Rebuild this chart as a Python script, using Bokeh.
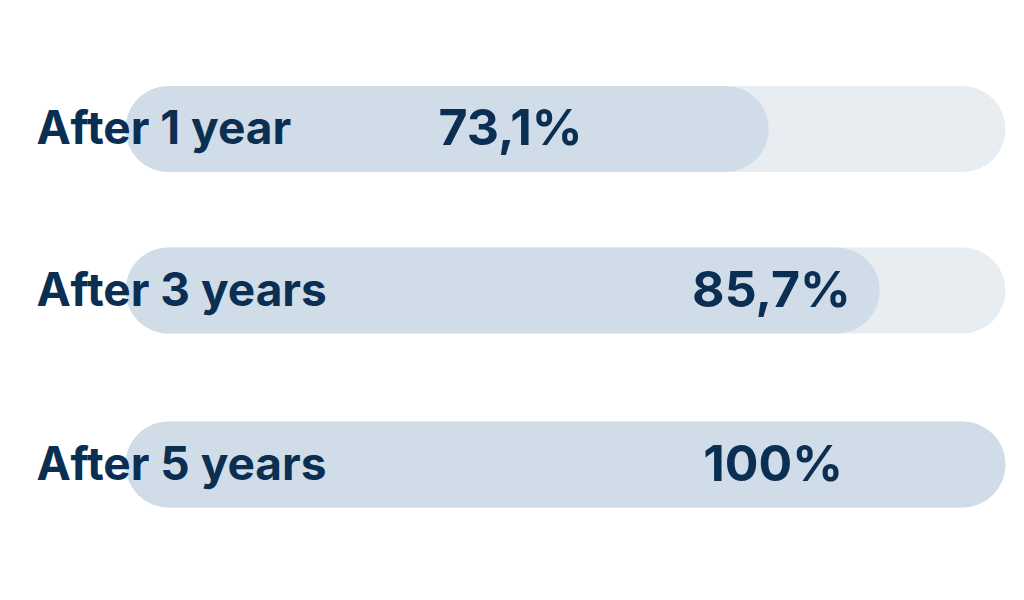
from bokeh.plotting import figure
from bokeh.models import Range1d, ColumnDataSource
from bokeh.core.properties import value
from bokeh.embed import file_html
from bokeh.resources import INLINE

categories = ["After 1 year", "After 3 years", "After 5 years"]
values = [73.1, 85.7, 100.0]
value_labels = ["73,1%", "85,7%", "100%"]
track_max = [100.0, 100.0, 100.0]

# layout (styles / positions, not data)
row_y = [128.5, 290.0, 464.0]          # pixel rows (y axis runs top->bottom)
label_center_x = [43.75, 73.4, 73.6]   # centre of value labels, in % units
bar_h = 86
px_per_pct = 8.8
x0_px = 125

W, H = 1008, 584
p = figure(width=W, height=H, output_backend="svg", toolbar_location=None,
           x_range=Range1d(-x0_px / px_per_pct, (W - x0_px) / px_per_pct),
           y_range=Range1d(H, 0), min_border=0)
p.axis.visible = False
p.grid.visible = False
p.outline_line_color = None
p.background_fill_color = "white"
p.border_fill_color = "white"

src = ColumnDataSource(dict(y=row_y, v=values, m=track_max, cat=categories,
                            lab=value_labels, lx=label_center_x))

text_color = "#0b2e53"

p.hbar(y="y", left=0, right="m", height=bar_h, source=src,
       fill_color="#e8edf2", line_color=None, border_radius=43)
p.hbar(y="y", left=0, right="v", height=bar_h, source=src,
       fill_color="#d0dde9", line_color=None, border_radius=43)

p.text(x=(36 - 125) / px_per_pct, y="y", text="cat", source=src,
       text_font=value("Inter"), text_font_style="bold",
       text_font_size="46px", text_color=text_color, y_offset=-2,
       text_align="left", text_baseline="middle")

p.text(x="lx", y="y", text="lab", source=src,
       text_font=value("Inter"), text_font_style="bold",
       text_font_size="50px", text_color=text_color, y_offset=-2,
       text_align="center", text_baseline="middle")

open("out.html", "w").write(file_html(p, INLINE))
